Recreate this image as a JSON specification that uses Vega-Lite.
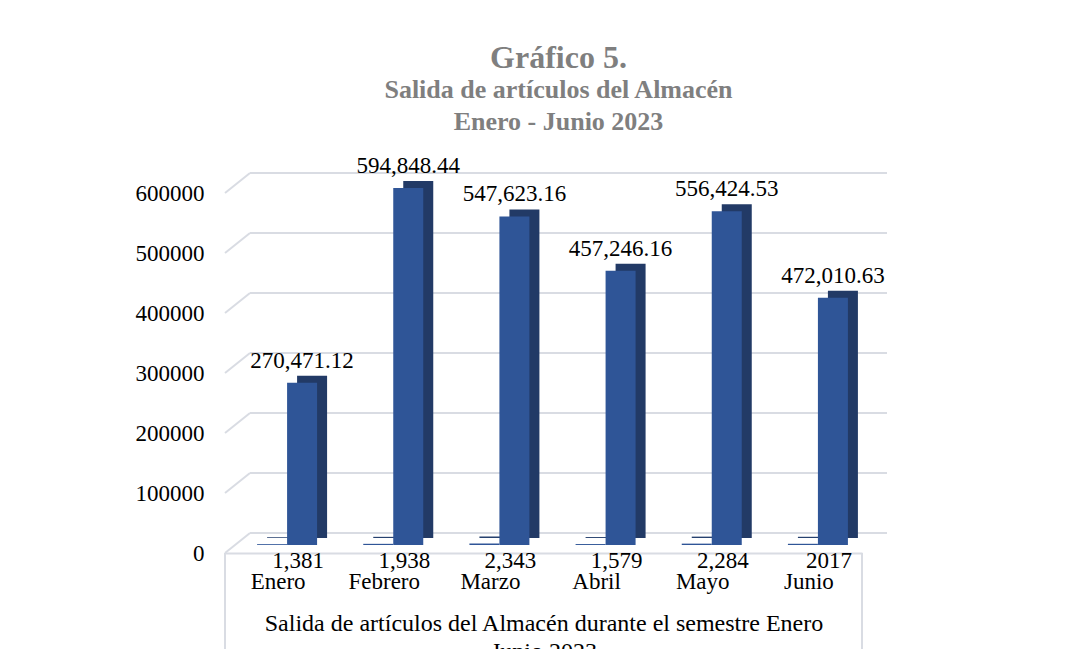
{
  "$schema": "https://vega.github.io/schema/vega-lite/v6.json",
  "width": 637,
  "height": 360,
  "autosize": {"type": "none"},
  "padding": {"left": 225, "top": 193, "right": 226, "bottom": 96},
  "background": "white",
  "config": {"view": {"stroke": null}, "font": "Liberation Serif"},
  "title": {
    "text": "Gráfico 5.",
    "subtitle": ["Salida de artículos del Almacén", "Enero - Junio 2023"],
    "font": "Liberation Serif",
    "fontSize": 32,
    "fontWeight": "bold",
    "color": "#7F7F7F",
    "subtitleFont": "Liberation Serif",
    "subtitleFontSize": 26,
    "subtitleFontWeight": "bold",
    "subtitleColor": "#7F7F7F",
    "subtitleLineHeight": 32,
    "subtitlePadding": 2,
    "anchor": "middle",
    "frame": "group",
    "offset": 19,
    "dx": 15
  },
  "datasets": {
    "salidas": [
      {"mes": "Enero", "serie": "Cantidad", "valor": 1381, "etiqueta": "1,381"},
      {"mes": "Enero", "serie": "Monto", "valor": 270471.12, "etiqueta": "270,471.12"},
      {"mes": "Febrero", "serie": "Cantidad", "valor": 1938, "etiqueta": "1,938"},
      {"mes": "Febrero", "serie": "Monto", "valor": 594848.44, "etiqueta": "594,848.44"},
      {"mes": "Marzo", "serie": "Cantidad", "valor": 2343, "etiqueta": "2,343"},
      {"mes": "Marzo", "serie": "Monto", "valor": 547623.16, "etiqueta": "547,623.16"},
      {"mes": "Abril", "serie": "Cantidad", "valor": 1579, "etiqueta": "1,579"},
      {"mes": "Abril", "serie": "Monto", "valor": 457246.16, "etiqueta": "457,246.16"},
      {"mes": "Mayo", "serie": "Cantidad", "valor": 2284, "etiqueta": "2,284"},
      {"mes": "Mayo", "serie": "Monto", "valor": 556424.53, "etiqueta": "556,424.53"},
      {"mes": "Junio", "serie": "Cantidad", "valor": 2017, "etiqueta": "2017"},
      {"mes": "Junio", "serie": "Monto", "valor": 412000, "etiqueta": "472,010.63"}
    ],
    "rejilla": [
      {"v": 0}, {"v": 100000}, {"v": 200000}, {"v": 300000}, {"v": 400000}, {"v": 500000}, {"v": 600000}
    ]
  },
  "encoding": {
    "x": {
      "field": "mes",
      "type": "nominal",
      "sort": ["Enero", "Febrero", "Marzo", "Abril", "Mayo", "Junio"],
      "scale": {"domain": ["Enero", "Febrero", "Marzo", "Abril", "Mayo", "Junio"], "paddingInner": 0, "paddingOuter": 0},
      "axis": {
        "labelAngle": 0,
        "labelFont": "Liberation Serif",
        "labelFontSize": 23,
        "labelColor": "#000000",
        "labelBaseline": "alphabetic",
        "labelPadding": 35,
        "ticks": false,
        "tickSize": 0,
        "domain": true,
        "domainColor": "#D9DCE3",
        "domainWidth": 2,
        "title": ["Salida de artículos del Almacén durante el semestre Enero", "Junio 2023"],
        "titleFont": "Liberation Serif",
        "titleFontSize": 24,
        "titleFontWeight": "normal",
        "titleColor": "#000000",
        "titleBaseline": "alphabetic",
        "titleY": 77,
        "titleLineHeight": 28
      }
    }
  },
  "layer": [
    {
      "data": {"name": "rejilla"},
      "mark": {"type": "rule", "color": "#D9DCE3", "strokeWidth": 2, "xOffset": 25, "x2Offset": 25, "yOffset": -20, "y2Offset": -20},
      "encoding": {
        "x": {"datum": "Enero", "bandPosition": 0},
        "x2": {"datum": "Junio", "bandPosition": 1},
        "y": {
          "field": "v",
          "type": "quantitative",
          "scale": {"domain": [0, 600000], "nice": false},
          "axis": {
            "values": [0, 100000, 200000, 300000, 400000, 500000, 600000],
            "format": "d",
            "grid": false,
            "domain": false,
            "ticks": false,
            "tickSize": 0,
            "labelFont": "Liberation Serif",
            "labelFontSize": 23,
            "labelColor": "#000000",
            "labelPadding": 21,
            "title": null
          }
        }
      }
    },
    {
      "data": {"name": "rejilla"},
      "mark": {"type": "rule", "color": "#D9DCE3", "strokeWidth": 2, "x2Offset": 25, "y2Offset": -20},
      "encoding": {
        "x": {"datum": "Enero", "bandPosition": 0},
        "x2": {"datum": "Enero", "bandPosition": 0},
        "y": {"field": "v", "type": "quantitative"},
        "y2": {"field": "v"}
      }
    },
    {
      "data": {"name": "rejilla"},
      "transform": [{"filter": "datum.v === 0"}],
      "mark": {"type": "rule", "color": "#D9DCE3", "strokeWidth": 2},
      "encoding": {
        "x": {"datum": "Enero", "bandPosition": 0},
        "y": {"field": "v", "type": "quantitative"},
        "y2": {"datum": -170000}
      }
    },
    {
      "data": {"name": "rejilla"},
      "transform": [{"filter": "datum.v === 0"}],
      "mark": {"type": "rule", "color": "#D9DCE3", "strokeWidth": 2},
      "encoding": {
        "x": {"datum": "Junio", "bandPosition": 1},
        "y": {"field": "v", "type": "quantitative"},
        "y2": {"datum": -170000}
      }
    },
    {
      "data": {"name": "salidas"},
      "encoding": {
        "y": {"field": "valor", "type": "quantitative"}
      },
      "layer": [
        {
          "transform": [{"filter": "datum.serie === 'Cantidad'"}],
          "mark": {"type": "bar", "color": "#26416F", "width": 30, "xOffset": 4, "yOffset": -15}
        },
        {
          "transform": [{"filter": "datum.serie === 'Cantidad'"}],
          "mark": {"type": "bar", "color": "#2F5597", "width": 30, "xOffset": -6, "yOffset": -8}
        },
        {
          "transform": [{"filter": "datum.serie === 'Monto'"}],
          "mark": {"type": "bar", "color": "#223A66", "width": 30, "xOffset": 34, "yOffset": -15}
        },
        {
          "transform": [{"filter": "datum.serie === 'Monto'"}],
          "mark": {"type": "bar", "color": "#2F5597", "width": 30, "xOffset": 24, "yOffset": -8}
        },
        {
          "transform": [{"filter": "datum.serie === 'Monto'"}],
          "mark": {"type": "text", "font": "Liberation Serif", "fontSize": 23, "color": "#000000", "align": "center", "baseline": "alphabetic", "dx": 24, "dy": -23},
          "encoding": {"text": {"field": "etiqueta"}}
        },
        {
          "transform": [{"filter": "datum.serie === 'Cantidad'"}],
          "mark": {"type": "text", "font": "Liberation Serif", "fontSize": 23, "color": "#000000", "align": "center", "baseline": "alphabetic", "dx": 20, "dy": 16},
          "encoding": {"text": {"field": "etiqueta"}}
        }
      ]
    }
  ]
}
